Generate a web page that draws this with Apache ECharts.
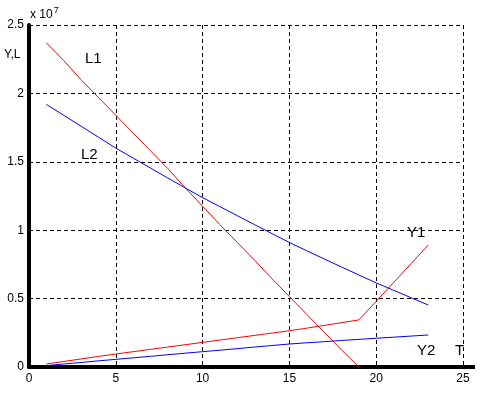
<!DOCTYPE html>
<html>
<head>
<meta charset="utf-8">
<script src="https://cdn.jsdelivr.net/npm/echarts@6/dist/echarts.min.js"></script>
<style>html,body{margin:0;padding:0;background:#fff;}#c{width:489px;height:395px;}</style>
</head>
<body>
<div id="c"></div>
<script>
// Time steps (T)
var tL1 = [1,2,3,4,5,6,7,8,9,10,11,12,13,14,15,16,17,18,19];
var tAll = [1,2,3,4,5,6,7,8,9,10,11,12,13,14,15,16,17,18,19,20,21,22,23];
// Values in units of 1e7
var L1 = [2.37,2.24,2.10,1.97,1.84,1.71,1.58,1.45,1.31,1.175,1.04,0.91,0.78,0.645,0.515,0.385,0.255,0.125,0.0];
var L2 = [1.92,1.84,1.76,1.68,1.60,1.527,1.454,1.381,1.309,1.238,1.172,1.106,1.040,0.975,0.910,0.850,0.790,0.731,0.673,0.615,0.561,0.507,0.453];
var Y1 = [0.022,0.040,0.059,0.077,0.095,0.112,0.129,0.146,0.163,0.180,0.197,0.214,0.231,0.248,0.265,0.284,0.304,0.324,0.344,0.48,0.617,0.754,0.892];
var Y2 = [0.010,0.022,0.033,0.045,0.056,0.067,0.078,0.090,0.101,0.112,0.123,0.134,0.146,0.157,0.168,0.177,0.185,0.194,0.202,0.210,0.218,0.226,0.234];
var xTickLabels = ['0','5','10','15','20','25'];
var yTickLabels = ['0','0.5','1','1.5','2','2.5'];

function pairs(t, v){ return t.map(function(x,i){ return [x, v[i]]; }); }

var chart = echarts.init(document.getElementById('c'), null, {renderer:'canvas'});
var font = 'Liberation Sans, Arial, sans-serif';
var dash = {color:'#000', width:1, type:[4,3]};
var lineSeries = function(name, t, v, color){
  return {name:name, type:'line', data:pairs(t,v), showSymbol:false, symbol:'none',
    lineStyle:{color:color, width:1}, animation:false, z:3};
};
chart.setOption({
  animation:false,
  grid:{left:29, right:26, top:25, bottom:28, containLabel:false},
  xAxis:{type:'value', min:0, max:25, interval:5,
    axisLine:{lineStyle:{color:'#000', width:4}},
    axisTick:{show:false},
    axisLabel:{color:'#000', fontFamily:font, fontSize:12, margin:6,
      formatter:function(v){ return xTickLabels[Math.round(v/5)]; }},
    splitLine:{show:true, lineStyle:dash}},
  yAxis:{type:'value', min:0, max:2.5, interval:0.5,
    axisLine:{show:true, lineStyle:{color:'#000', width:4}},
    axisTick:{show:false},
    axisLabel:{color:'#000', fontFamily:font, fontSize:12, margin:5,
      formatter:function(v){ return yTickLabels[Math.round(v/0.5)]; }},
    splitLine:{show:true, lineStyle:dash}},
  series:[
    lineSeries('L1', tL1, L1, '#ff0000'),
    lineSeries('L2', tAll, L2, '#0000ff'),
    lineSeries('Y1', tAll, Y1, '#ff0000'),
    lineSeries('Y2', tAll, Y2, '#0000ff')
  ],
  graphic:[
    {type:'rect', shape:{x:463, y:365, width:12, height:4}, style:{fill:'#000'}, z:10},
    {type:'text', left:30, top:6, style:{text:'{a|x 10}{b|7}', rich:{a:{fontSize:12, fontFamily:font, fill:'#000'}, b:{fontSize:9, fontFamily:font, fill:'#000', verticalAlign:'top', padding:[0,0,8,1]}}}},
    {type:'text', left:4, top:49, style:{text:'Y,L', fontSize:12, fontFamily:font, fill:'#000'}},
    {type:'text', left:85, top:51, style:{text:'L1', fontSize:15, fontFamily:font, fill:'#000'}},
    {type:'text', left:81, top:147, style:{text:'L2', fontSize:15, fontFamily:font, fill:'#000'}},
    {type:'text', left:407, top:225, style:{text:'Y1', fontSize:15, fontFamily:font, fill:'#000'}},
    {type:'text', left:417, top:343, style:{text:'Y2', fontSize:15, fontFamily:font, fill:'#000'}},
    {type:'text', left:455, top:343, style:{text:'T', fontSize:15, fontFamily:font, fill:'#000'}}
  ]
});
</script>
</body>
</html>
